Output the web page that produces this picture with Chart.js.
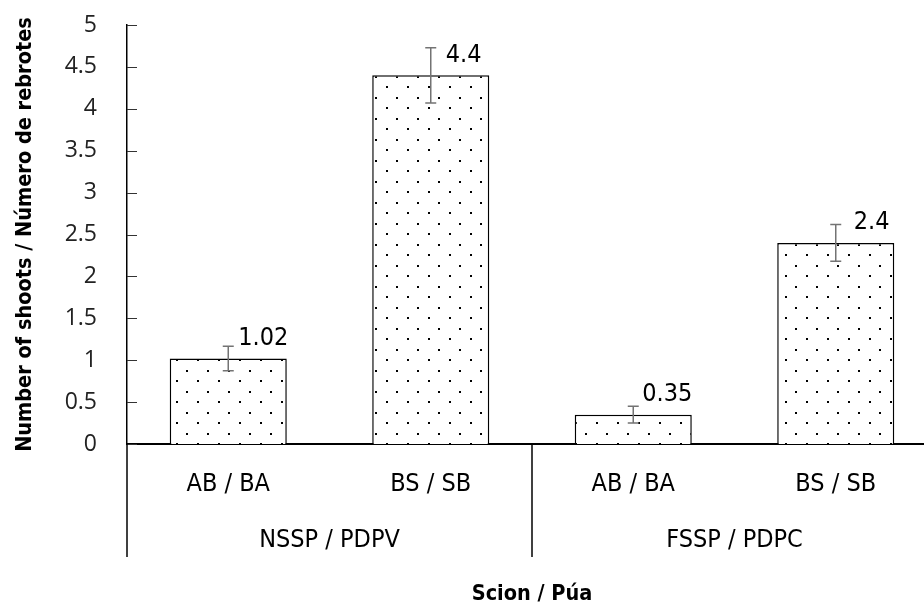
<!DOCTYPE html>
<html>
<head>
<meta charset="utf-8">
<script src="https://cdn.jsdelivr.net/npm/chart.js@4/dist/chart.umd.min.js"></script>
<style>
  html, body { margin: 0; padding: 0; background: #fff; overflow: hidden; }
  #wrap { width: 940px; height: 605px; position: relative; }
</style>
</head>
<body>
<div id="wrap"><canvas id="shootsChart"></canvas></div>
<script>
// -------------------------------
// Data
// -------------------------------
const scions = ["AB / BA", "BS / SB", "AB / BA", "BS / SB"];
const sites = ["NSSP / PDPV", "FSSP / PDPC"];
const shoots = [1.02, 4.4, 0.35, 2.4];
const shootsErr = [0.145, 0.33, 0.1, 0.22];
const yMin = 0;
const yMax = 5;
const yStep = 0.5;

const NARROW = "'Liberation Sans Narrow', 'DejaVu Sans Condensed', 'Arial Narrow', sans-serif";

// -------------------------------
// Dotted fill
// -------------------------------
function dotPattern() {
  const tile = document.createElement("canvas");
  tile.width = 21;
  tile.height = 21;
  const t = tile.getContext("2d");
  t.fillStyle = "#fff";
  t.fillRect(0, 0, 21, 21);
  t.fillStyle = "#000";
  t.fillRect(8, 2, 2, 2);
  t.fillRect(18, 13, 2, 2);
  return t.createPattern(tile, "repeat");
}

// -------------------------------
// Plugins: inner ticks, separators, error bars, labels
// -------------------------------
const decorations = {
  id: "decorations",
  afterDatasetsDraw(chart, args, opts) {
    const ctx = chart.ctx;
    const y = chart.scales.y;
    const x2 = chart.scales.x2;
    const area = chart.chartArea;
    const meta = chart.getDatasetMeta(0);

    ctx.save();

    // inward y ticks
    ctx.strokeStyle = "#333";
    ctx.lineWidth = 1;
    y.ticks.forEach(tk => {
      const py = Math.round(y.getPixelForValue(tk.value)) + 0.5;
      ctx.beginPath();
      ctx.moveTo(area.left, py);
      ctx.lineTo(area.left + 10, py);
      ctx.stroke();
    });

    // group separators under the axis
    ctx.strokeStyle = "#000";
    ctx.lineWidth = 1.5;
    const half = (x2.right - x2.left) / (sites.length * 2);
    const edges = [];
    sites.forEach((s, i) => {
      const c = x2.getPixelForValue(i);
      edges.push(c - half);
      if (i === sites.length - 1) edges.push(c + half);
    });
    edges.forEach(px => {
      ctx.beginPath();
      ctx.moveTo(px, area.bottom);
      ctx.lineTo(px, area.bottom + opts.sepDrop);
      ctx.stroke();
    });

    // error bars
    ctx.strokeStyle = "#737373";
    ctx.lineWidth = 1.5;
    meta.data.forEach((bar, i) => {
      const hi = y.getPixelForValue(shoots[i] + shootsErr[i]);
      const lo = y.getPixelForValue(shoots[i] - shootsErr[i]);
      ctx.beginPath();
      ctx.moveTo(bar.x, hi);
      ctx.lineTo(bar.x, lo);
      ctx.moveTo(bar.x - 5.5, hi);
      ctx.lineTo(bar.x + 5.5, hi);
      ctx.moveTo(bar.x - 5.5, lo);
      ctx.lineTo(bar.x + 5.5, lo);
      ctx.stroke();
    });

    // value labels
    ctx.fillStyle = "#000";
    ctx.font = "25px " + NARROW;
    ctx.textAlign = "left";
    ctx.textBaseline = "middle";
    meta.data.forEach((bar, i) => {
      ctx.fillText(String(shoots[i]), bar.x + opts.labelShift[i], bar.y - 20);
    });

    ctx.restore();
  }
};

// -------------------------------
// Chart
// -------------------------------
const ctx = document.getElementById("shootsChart");

new Chart(ctx, {
  type: "bar",
  data: {
    labels: scions,
    datasets: [
      {
        label: "Number of shoots",
        data: shoots,
        backgroundColor: dotPattern(),
        borderColor: "#000",
        borderWidth: 1.5,
        barPercentage: 0.578,
        categoryPercentage: 1
      }
    ]
  },
  options: {
    responsive: true,
    maintainAspectRatio: false,
    animation: false,
    layout: { padding: { top: 25, right: 3, bottom: 0, left: 0 } },
    plugins: {
      legend: { display: false },
      tooltip: { enabled: false },
      decorations: { sepDrop: 113, labelShift: [10, 15, 9, 18] }
    },
    scales: {
      y: {
        min: yMin,
        max: yMax,
        afterFit(scale) { scale.width = 127; },
        ticks: {
          stepSize: yStep,
          padding: 4,
          color: "#222",
          font: { family: "'Open Sans', sans-serif", size: 23 },
          callback: v => String(v)
        },
        grid: { display: false, drawTicks: true, tickLength: 26 },
        border: { display: true, color: "#000", width: 1.5 },
        title: {
          display: true,
          text: "Number of shoots / Número de rebrotes",
          color: "#000",
          padding: { top: 13, bottom: 0 },
          font: { family: NARROW, size: 21.5, weight: "bold", lineHeight: 1.2 }
        }
      },
      x: {
        weight: 0,
        afterFit(scale) { scale.height = 60; },
        ticks: {
          padding: 25,
          color: "#000",
          font: { family: NARROW, size: 25 }
        },
        grid: { display: false, drawTicks: false, offset: true },
        border: { display: true, color: "#000", width: 2 }
      },
      x2: {
        type: "category",
        position: "bottom",
        weight: 1,
        labels: sites,
        offset: true,
        afterFit(scale) { scale.height = 101; },
        ticks: {
          padding: 21,
          color: "#000",
          font: { family: NARROW, size: 25 }
        },
        grid: { display: false, drawTicks: false },
        border: { display: false },
        title: {
          display: true,
          text: "Scion / Púa",
          color: "#000",
          padding: { top: 0, bottom: 0 },
          font: { family: NARROW, size: 21.5, weight: "bold", lineHeight: 1 }
        }
      }
    }
  },
  plugins: [decorations]
});
</script>
</body>
</html>
